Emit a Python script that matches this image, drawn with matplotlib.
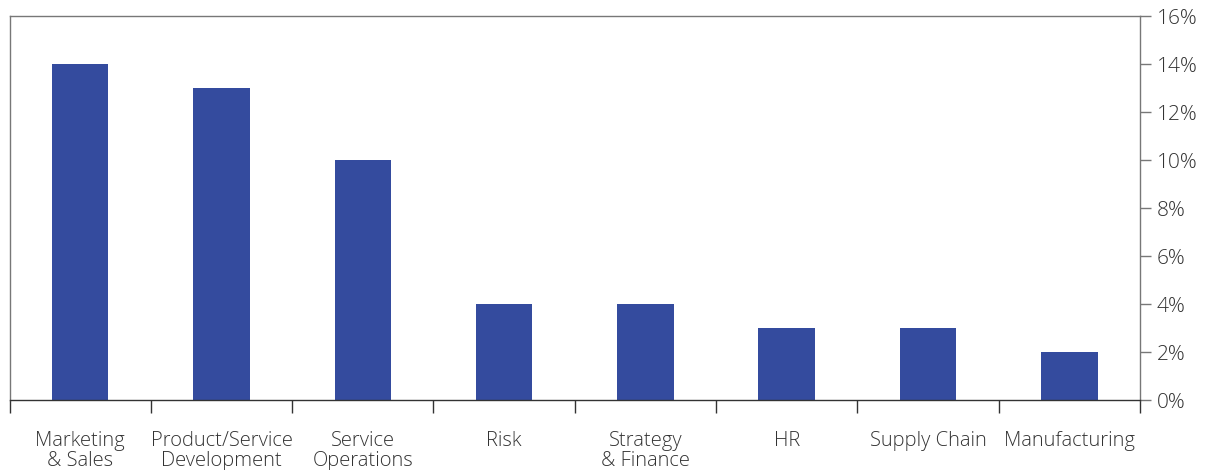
import matplotlib
matplotlib.use("Agg")
import matplotlib.pyplot as plt
import numpy as np
from matplotlib.ticker import FixedLocator, PercentFormatter

categories = ["Marketing\n& Sales", "Product/Service\nDevelopment", "Service\nOperations",
              "Risk", "Strategy\n& Finance", "HR", "Supply Chain", "Manufacturing"]
values = [14, 13, 10, 4, 4, 3, 3, 2]
y_ticks = [0, 2, 4, 6, 8, 10, 12, 14, 16]

plt.rcParams['font.family'] = ['Open Sans', 'DejaVu Sans']

fig = plt.figure(figsize=(12.08, 4.70), dpi=100)
ax = fig.add_axes([9.5 / 1208, 70 / 470, 1130.5 / 1208, 384 / 470])

x = np.arange(len(categories))
ax.bar(x, values, width=0.4, color="#344b9e", zorder=2)

ax.set_xlim(-0.5, len(categories) - 0.5)
ax.set_ylim(0, 16)

# y axis on the right
ax.yaxis.tick_right()
ax.set_yticks(y_ticks)
ax.yaxis.set_major_formatter(PercentFormatter(decimals=0))
ax.tick_params(axis="y", which="major", direction="out", length=8, width=1,
               color="#777777", labelsize=15, labelcolor="#333333", pad=4)
for lbl in ax.get_yticklabels():
    lbl.set_fontweight("light")

# x ticks at category boundaries, labels at centers
ax.xaxis.set_major_locator(FixedLocator(np.arange(-0.5, len(categories), 1.0)))
ax.xaxis.set_minor_locator(FixedLocator(x))
ax.set_xticklabels([], minor=False)
ax.set_xticklabels(categories, minor=True)
ax.tick_params(axis="x", which="major", direction="out", length=9, width=1, color="#333333")
ax.tick_params(axis="x", which="minor", length=0, labelsize=14.5, labelcolor="#333333", pad=22)
for lbl in ax.get_xticklabels(minor=True):
    lbl.set_linespacing(1.05)
    lbl.set_fontweight("light")

for side in ["top", "left", "right"]:
    ax.spines[side].set_color("#777777")
    ax.spines[side].set_linewidth(1)
ax.spines["bottom"].set_color("#333333")
ax.spines["bottom"].set_linewidth(1)

fig.savefig("out.png", dpi=100)
